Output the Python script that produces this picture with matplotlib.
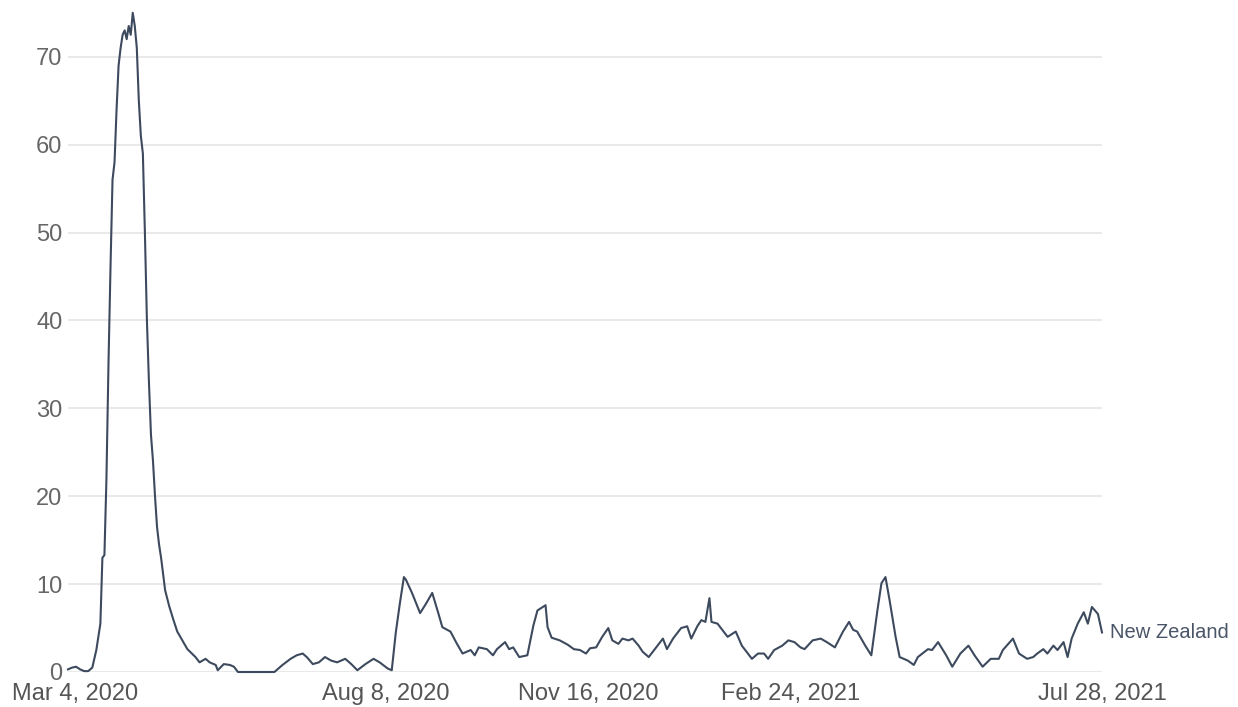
import matplotlib
matplotlib.use("Agg")
import matplotlib.pyplot as plt
import matplotlib.transforms as mtransforms
import pandas as pd

start_date = "2020-03-04"
day_offsets = [0, 2, 4, 6, 8, 10, 12, 14, 15, 16, 17, 18, 19, 20, 21, 22, 23, 24, 25, 26,
               27, 28, 29, 30, 31, 32, 33, 34, 35, 36, 37, 38, 39, 40, 41, 42, 43, 44, 45, 46,
               48, 50, 52, 54, 57, 59, 63, 65, 68, 70, 73, 74, 77, 80, 82, 84, 102, 106, 110, 113,
               116, 118, 121, 124, 127, 130, 133, 137, 140, 143, 147, 151, 154, 158, 160, 162, 164, 166, 167, 170,
               174, 177, 180, 183, 185, 189, 192, 195, 199, 201, 203, 207, 210, 212, 216, 218, 220, 223, 227, 230,
               232, 236, 237, 239, 243, 247, 250, 253, 256, 258, 261, 264, 267, 269, 272, 274, 277, 279, 282, 284,
               287, 290, 294, 296, 299, 303, 306, 308, 311, 313, 315, 317, 318, 321, 326, 330, 333, 336, 338, 341,
               344, 346, 349, 353, 356, 359, 362, 364, 368, 372, 375, 379, 383, 386, 388, 390, 394, 397, 400, 402,
               404, 406, 409, 411, 415, 418, 420, 425, 427, 430, 434, 437, 441, 445, 448, 452, 456, 460, 462, 467,
               470, 474, 477, 479, 482, 484, 487, 489, 492, 494, 496, 499, 502, 504, 506, 509, 511]
values = [0.3, 0.5, 0.6, 0.3, 0.1, 0.1, 0.5, 2.5, 4.0, 5.5, 13.0, 13.3, 22.0, 35.0, 46.0, 56.0, 58.0, 64.0, 69.0, 71.0,
          72.5, 73.0, 72.0, 73.5, 72.5, 75.0, 73.5, 71.0, 65.0, 61.0, 59.0, 50.0, 40.0, 33.0, 27.0, 24.0, 20.0, 16.5, 14.5, 13.0,
          9.3, 7.5, 6.0, 4.6, 3.4, 2.6, 1.7, 1.1, 1.5, 1.1, 0.8, 0.2, 0.9, 0.8, 0.6, 0.0, 0.0, 0.8, 1.5, 1.9,
          2.1, 1.7, 0.9, 1.1, 1.7, 1.3, 1.1, 1.5, 0.9, 0.2, 0.9, 1.5, 1.1, 0.4, 0.2, 4.5, 7.8, 10.8, 10.5, 9.0,
          6.7, 7.8, 9.0, 6.7, 5.1, 4.6, 3.3, 2.1, 2.5, 1.9, 2.8, 2.6, 1.9, 2.6, 3.4, 2.6, 2.8, 1.7, 1.9, 5.3,
          7.0, 7.6, 5.1, 3.9, 3.6, 3.1, 2.6, 2.5, 2.1, 2.7, 2.8, 4.0, 5.0, 3.6, 3.2, 3.8, 3.6, 3.8, 3.0, 2.3,
          1.7, 2.6, 3.8, 2.6, 3.8, 5.0, 5.2, 3.8, 5.2, 5.9, 5.7, 8.4, 5.7, 5.5, 4.0, 4.6, 3.0, 2.1, 1.5, 2.1,
          2.1, 1.5, 2.5, 3.0, 3.6, 3.4, 2.8, 2.6, 3.6, 3.8, 3.4, 2.8, 4.6, 5.7, 4.8, 4.6, 3.0, 1.9, 7.0, 10.1,
          10.8, 8.2, 4.0, 1.7, 1.3, 0.8, 1.7, 2.6, 2.5, 3.4, 1.9, 0.6, 2.1, 3.0, 1.9, 0.6, 1.5, 1.5, 2.5, 3.8,
          2.1, 1.5, 1.7, 2.1, 2.6, 2.1, 3.0, 2.5, 3.4, 1.7, 3.8, 5.5, 6.8, 5.5, 7.4, 6.6, 4.5]
series_name = "New Zealand"
y_ticks = [0, 10, 20, 30, 40, 50, 60, 70]
x_tick_dates = ["2020-03-04", "2020-08-08", "2020-11-16", "2021-02-24", "2021-07-28"]
x_tick_labels = ["Mar 4, 2020", "Aug 8, 2020", "Nov 16, 2020", "Feb 24, 2021", "Jul 28, 2021"]

plt.rcParams['font.family'] = ['Liberation Sans', 'DejaVu Sans']

dates = pd.to_datetime(start_date) + pd.to_timedelta(day_offsets, unit="D")
tick_dates = pd.to_datetime(x_tick_dates)

fig = plt.figure(figsize=(12.38, 7.07), dpi=100)
left = 68 / 1238
right = 1102 / 1238
bottom = (707 - 672) / 707
top = (707 - 4) / 707
ax = fig.add_axes([left, bottom, right - left, top - bottom])

ax.set_ylim(0, 76.0)
ax.set_xlim(pd.to_datetime(x_tick_dates[0]), pd.to_datetime(x_tick_dates[-1]))

for yv in y_ticks:
    ax.axhline(yv, color="#e3e3e3", lw=1.1, zorder=1)

line_color = "#3d4a5e"
ax.plot(dates, values, color=line_color, lw=1.5, zorder=3, clip_on=False,
        solid_joinstyle="round")

ax.text(dates[-1] + pd.Timedelta(days=4), values[-1], series_name, color="#4a5568",
        fontsize=14.5, va="center", ha="left", clip_on=False)

ax.set_yticks(y_ticks)
ax.set_yticklabels([str(v) for v in y_ticks])
ax.set_xticks(tick_dates)
ax.set_xticklabels(x_tick_labels)
ax.tick_params(axis="y", length=0, pad=4, labelsize=17, labelcolor="#666666")
ax.tick_params(axis="x", length=0, pad=8, labelsize=17, labelcolor="#555555")

# first x label nudged right so it stays inside the figure, as in the reference
xlabels = ax.get_xticklabels()
xlabels[0].set_transform(xlabels[0].get_transform() +
                         mtransforms.ScaledTranslation(7 / 100, 0, fig.dpi_scale_trans))

for s in ax.spines.values():
    s.set_visible(False)
ax.grid(False)
ax.set_facecolor("white")

fig.savefig("out.png", dpi=100, facecolor="white")
